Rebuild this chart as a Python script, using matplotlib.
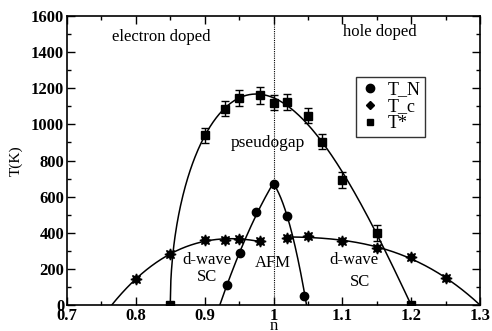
import numpy as np
import matplotlib
matplotlib.use("Agg")
import matplotlib.pyplot as plt
from matplotlib.lines import Line2D
from matplotlib.ticker import MultipleLocator

plt.rcParams['font.family'] = ['Liberation Serif', 'DejaVu Serif']

# Pseudogap temperature T* with error bars
n_tstar = [0.85, 0.90, 0.93, 0.95, 0.98, 1.00, 1.02, 1.05, 1.07, 1.10, 1.15, 1.20]
t_tstar = [0, 940, 1087, 1148, 1160, 1121, 1122, 1048, 904, 692, 400, 0]
e_tstar = [0, 42, 43, 44, 45, 44, 44, 43, 43, 44, 44, 0]

# Neel temperature T_N (AFM dome)
n_tn_left = [0.933, 0.952, 0.975, 1.00]
t_tn_left = [109, 290, 517, 670]
n_tn_right = [1.00, 1.02, 1.045]
t_tn_right = [670, 494, 50]
tn_zero = [0.922, 1.048]

# Superconducting T_c (d-wave SC)
n_tc_left = [0.80, 0.85, 0.90, 0.93, 0.95, 0.98]
t_tc_left = [144, 280, 360, 362, 364, 353]
n_tc_right = [1.02, 1.05, 1.10, 1.15, 1.20, 1.25]
t_tc_right = [373, 382, 356, 315, 264, 148]
tc_zero = [0.765, 1.30]

fig = plt.figure(figsize=(4.92, 3.31), dpi=100)
ax = fig.add_axes([0.1362, 0.0785, 0.8394, 0.8732])


def fit_curve(xs, ys, deg, x0, x1, anchor=None):
    xs = list(xs)
    ys = list(ys)
    w = [1.0] * len(xs)
    if anchor is not None:
        xs.append(anchor)
        ys.append(0.0)
        w.append(20.0)
    p = np.polyfit(xs, ys, deg, w=w)
    xx = np.linspace(x0, x1, 300)
    return xx, np.polyval(p, xx)


def fit_tstar(xs, ys):
    # square-root onset on the electron side, smooth cubic envelope elsewhere
    xs = np.asarray(xs, float)
    ys = np.asarray(ys, float)
    x0 = xs[0]
    m = xs > x0
    g = ys[m] / np.sqrt(xs[m] - x0)
    w = np.where(ys[m] == 0, 20.0, 1.0)
    p = np.polyfit(xs[m], g, 3, w=w)
    xx = np.linspace(x0, xs[-1], 400)
    return xx, np.sqrt(xx - x0) * np.polyval(p, xx)


lw = 1.1
xx, yy = fit_tstar(n_tstar, t_tstar)
ax.plot(xx, yy, color='black', lw=lw)
xx, yy = fit_curve(n_tn_left, t_tn_left, 2, tn_zero[0], n_tn_left[-1], anchor=tn_zero[0])
ax.plot(xx, yy, color='black', lw=lw)
xx, yy = fit_curve(n_tn_right, t_tn_right, 2, n_tn_right[0], tn_zero[1], anchor=tn_zero[1])
ax.plot(xx, yy, color='black', lw=lw)
xx, yy = fit_curve(n_tc_left, t_tc_left, 3, tc_zero[0], n_tc_left[-1], anchor=tc_zero[0])
ax.plot(xx, yy, color='black', lw=lw)
xx, yy = fit_curve(n_tc_right, t_tc_right, 3, n_tc_right[0], tc_zero[1], anchor=tc_zero[1])
ax.plot(xx, yy, color='black', lw=lw)

# markers
ax.errorbar(n_tstar, t_tstar, yerr=e_tstar, fmt='s', color='black', ms=5.5,
            capsize=3, elinewidth=1, capthick=1, zorder=5)
ax.plot(n_tn_left + n_tn_right[1:], t_tn_left + t_tn_right[1:], 'o',
        color='black', ms=6, zorder=5)
ax.plot(n_tc_left + n_tc_right, t_tc_left + t_tc_right, marker=(8, 1, 0),
        ls='none', color='black', ms=8, zorder=5)

# half-filling line
ax.axvline(1.0, color='black', lw=0.8, ls=(0, (1, 1)), zorder=1)

ax.set_xlim(0.7, 1.3)
ax.set_ylim(0, 1600)
ax.xaxis.set_major_locator(MultipleLocator(0.1))
ax.xaxis.set_minor_locator(MultipleLocator(0.05))
ax.yaxis.set_major_locator(MultipleLocator(200))
ax.yaxis.set_minor_locator(MultipleLocator(100))
ax.set_xticks(np.arange(0.7, 1.31, 0.1))
ax.set_xticklabels(['0.7', '0.8', '0.9', '1', '1.1', '1.2', '1.3'])
ax.tick_params(which='both', direction='in', top=True, right=True, width=1)
ax.tick_params(which='major', length=6, labelsize=12, pad=2)
ax.tick_params(which='minor', length=3)
for lab in ax.get_xticklabels() + ax.get_yticklabels():
    lab.set_fontweight('bold')
for s in ax.spines.values():
    s.set_linewidth(1.2)

ax.set_xlabel('n', fontsize=12, labelpad=-4)
ax.set_ylabel('T(K)', fontsize=11, labelpad=6)

tk = dict(fontsize=12, ha='center', va='center')
ax.text(0.837, 1486, 'electron doped', **tk)
ax.text(1.154, 1513, 'hole doped', **tk)
ax.text(0.992, 899, 'pseudogap', fontsize=12.5, ha='center', va='center')
ax.text(0.904, 249, 'd-wave', **tk)
ax.text(0.904, 157, 'SC', **tk)
ax.text(0.999, 231, 'AFM', **tk)
ax.text(1.117, 249, 'd-wave', **tk)
ax.text(1.126, 129, 'SC', **tk)

handles = [
    Line2D([], [], marker='o', ls='none', color='black', ms=6),
    Line2D([], [], marker='D', ls='none', color='black', ms=4.5),
    Line2D([], [], marker='s', ls='none', color='black', ms=5),
]
leg = ax.legend(handles, ['T_N', 'T_c', 'T*'], loc='upper left',
                bbox_to_anchor=(0.70, 0.79), fontsize=13, frameon=True,
                fancybox=False, edgecolor='black', handlelength=1.0,
                handletextpad=0.5, borderpad=0.25, labelspacing=0.0,
                borderaxespad=0)
leg.get_frame().set_linewidth(1.0)

fig.savefig('out.png', dpi=100)
